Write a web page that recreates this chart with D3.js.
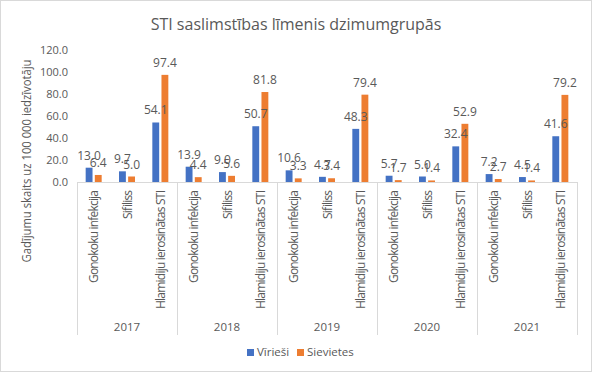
<!DOCTYPE html>
<html>
<head>
<meta charset="utf-8">
<script src="https://cdn.jsdelivr.net/npm/d3@7"></script>
<style>
	body { margin: 0; background: #fff; }
	svg text { font-family: "Open Sans", "Noto Sans", sans-serif; }
</style>
</head>
<body>
<svg id="canvas" width="592" height="372"></svg>
<script>
const years = ["2017", "2018", "2019", "2020", "2021"];
const categories = ["Gonokoku infekcija", "Sifiliss", "Hlamidiju ierosinātas STI"];
const series = ["Vīrieši", "Sievietes"];
const colors = ["#4472C4", "#ED7D31"];
// per year, per category
const men = [
	[13.0, 9.7, 54.1],
	[13.9, 9.0, 50.7],
	[10.6, 4.7, 48.3],
	[5.7, 5.0, 32.4],
	[7.2, 4.5, 41.6]
];
const women = [
	[6.4, 5.0, 97.4],
	[4.4, 5.6, 81.8],
	[3.3, 3.4, 79.4],
	[1.7, 1.4, 52.9],
	[2.7, 1.4, 79.2]
];
const yTicks = [0, 20, 40, 60, 80, 100, 120];
// rendered length of the rotated category labels (px)
const catLen = [93, 29, 119];

const svg = d3.select("#canvas");
const W = 592, H = 372;
const plot = {left: 77, right: 577, top: 50, bottom: 182};

// chart border
svg.append("rect")
	.attr("x", 0.5).attr("y", 0.5)
	.attr("width", W - 1).attr("height", H - 1)
	.attr("fill", "#fff").attr("stroke", "#d9d9d9");

svg.append("text")
	.attr("x", W / 2).attr("y", 30)
	.attr("text-anchor", "middle")
	.attr("font-size", 16)
	.attr("fill", "#595959")
	.text("STI saslimstības līmenis dzimumgrupās");

const y = d3.scaleLinear().domain([0, 120]).range([plot.bottom, plot.top]);
const x0 = d3.scaleBand().domain(years).range([plot.left, plot.right]);
const x1 = d3.scaleBand().domain(categories).range([0, x0.bandwidth()]);
const half = 8;
const x2 = d3.scaleBand().domain(series)
	.range([x1.bandwidth() / 2 - half, x1.bandwidth() / 2 + half])
	.paddingInner(0.25);

// y axis labels
const yAxis = svg.append("g")
	.attr("transform", "translate(" + (plot.left - 9) + ",0)")
	.call(d3.axisLeft(y).tickValues(yTicks).tickFormat(d3.format(".1f")).tickSize(0).tickPadding(0));
yAxis.select(".domain").remove();
yAxis.selectAll("text").attr("font-size", 11).attr("fill", "#595959")
	.style("font-family", "'Open Sans', sans-serif");

svg.append("text")
	.attr("transform", "translate(31,161) rotate(-90)")
	.attr("text-anchor", "middle")
	.attr("font-size", 12)
	.attr("textLength", 203)
	.attr("lengthAdjust", "spacingAndGlyphs")
	.attr("fill", "#595959")
	.text("Gadījumu skaits uz 100 000 iedzīvotāju");

// category axis: baseline and year separators
svg.append("line")
	.attr("x1", plot.left).attr("x2", plot.right)
	.attr("y1", plot.bottom + 0.5).attr("y2", plot.bottom + 0.5)
	.attr("stroke", "#d9d9d9");
const seps = years.map(d => x0(d)).concat([plot.right]);
svg.selectAll(".sep").data(seps).enter().append("line")
	.attr("class", "sep")
	.attr("x1", d => Math.round(d) + 0.5).attr("x2", d => Math.round(d) + 0.5)
	.attr("y1", plot.bottom).attr("y2", 335)
	.attr("stroke", "#d9d9d9");

const rows = [];
years.forEach((yr, i) => {
	categories.forEach((c, j) => {
		rows.push({year: yr, cat: c, s: 0, v: men[i][j]});
		rows.push({year: yr, cat: c, s: 1, v: women[i][j]});
	});
});
const bx = d => x0(d.year) + x1(d.cat) + x2(series[d.s]);

svg.selectAll(".bar").data(rows).enter().append("rect")
	.attr("class", "bar")
	.attr("x", bx)
	.attr("y", d => y(d.v))
	.attr("width", x2.bandwidth())
	.attr("height", d => y(0) - y(d.v))
	.attr("fill", d => colors[d.s]);

svg.selectAll(".lbl").data(rows).enter().append("text")
	.attr("class", "lbl")
	.attr("x", d => bx(d) + x2.bandwidth() / 2)
	.attr("y", d => y(d.v) - 8)
	.attr("text-anchor", "middle")
	.attr("font-size", 12)
	.attr("fill", "#595959")
	.text(d => d3.format(".1f")(d.v));

// rotated category labels
const catLabels = [];
years.forEach(yr => categories.forEach((c, j) => catLabels.push({year: yr, cat: c, len: catLen[j]})));
svg.selectAll(".cat").data(catLabels).enter().append("text")
	.attr("class", "cat")
	.attr("transform", d => "translate(" + (x0(d.year) + x1(d.cat) + x1.bandwidth() / 2 + 4.5) + ",190) rotate(-90)")
	.attr("text-anchor", "end")
	.attr("font-size", 12)
	.attr("textLength", d => d.len)
	.attr("lengthAdjust", "spacing")
	.attr("fill", "#595959")
	.text(d => d.cat);

svg.selectAll(".yr").data(years).enter().append("text")
	.attr("class", "yr")
	.attr("x", d => x0(d) + x0.bandwidth() / 2)
	.attr("y", 331)
	.attr("text-anchor", "middle")
	.attr("font-size", 11.5)
	.attr("fill", "#595959")
	.text(d => d);

// legend
const leg = svg.append("g").attr("transform", "translate(247,356)");
const legX = [0, 50];
series.forEach((s, i) => {
	leg.append("rect")
		.attr("x", legX[i]).attr("y", -7)
		.attr("width", 7).attr("height", 7)
		.attr("fill", colors[i]);
	leg.append("text")
		.attr("x", legX[i] + 10).attr("y", 0)
		.attr("font-size", 11.5)
		.attr("fill", "#595959")
		.text(s);
});
</script>
</body>
</html>
